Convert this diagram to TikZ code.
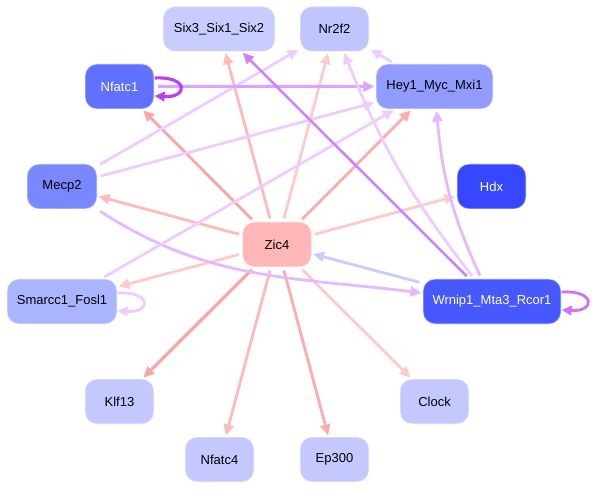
\documentclass[tikz,border=0pt]{standalone}
\usepackage{fontspec}
\setmainfont{Liberation Sans}
\usetikzlibrary{arrows.meta,backgrounds}
\definecolor{nLight}{HTML}{C4C8FF}
\definecolor{nSix}{HTML}{C8CCFF}
\definecolor{nNr}{HTML}{C0C5FF}
\definecolor{nNfatc}{HTML}{6070FF}
\definecolor{nHey}{HTML}{929CFF}
\definecolor{nMecp}{HTML}{7A88FF}
\definecolor{nHdx}{HTML}{3747FF}
\definecolor{nZic}{HTML}{FFB6B6}
\definecolor{nSmar}{HTML}{AAB4FF}
\definecolor{nWrn}{HTML}{4858FF}
\definecolor{eSalmon}{HTML}{F8A6A6}
\definecolor{eSalmonB}{HTML}{FFACAC}
\definecolor{ePink}{HTML}{FFBABA}
\definecolor{ePinkL}{HTML}{FFCACA}
\definecolor{eBlue}{HTML}{C8CCFF}
\definecolor{eLav}{HTML}{EECCFF}
\definecolor{eLavB}{HTML}{E6B8FF}
\definecolor{ePurp}{HTML}{D080FF}
\definecolor{ePurpD}{HTML}{C040F0}
\definecolor{ePurpM}{HTML}{E0A0FF}
\definecolor{eLoopW}{HTML}{D070FF}
\begin{document}
\begin{tikzpicture}[x=1pt,y=1pt,
  nb/.style={rectangle, rounded corners=12pt, minimum height=45pt, minimum width=69pt,
    inner sep=0pt, draw=white, draw opacity=0.45, line width=1.2pt,
    font=\fontsize{13}{15}\selectfont},
  edg/.style={line width=2.8pt, -{Triangle[length=11pt,width=10pt]}, shorten <=3pt, shorten >=1pt},
  loopedg/.style={line width=2.8pt, -{Triangle[length=10pt,width=9.5pt]}}]
\useasboundingbox (0,0) rectangle (592,-489);
\node[nb, fill=nSix, minimum width=112pt] (six) at (219,-29) {Six3\_Six1\_Six2};
\node[nb, fill=nNr] (nr) at (334.5,-29) {Nr2f2};
\node[nb, fill=nNfatc, text=white] (nfatc1) at (119.5,-86.5) {Nfatc1};
\node[nb, fill=nHey, minimum width=117pt] (hey) at (434.5,-86.5) {Hey1\_Myc\_Mxi1};
\node[nb, fill=nMecp, minimum width=70pt] (mecp) at (62,-186.5) {Mecp2};
\node[nb, fill=nHdx, text=white] (hdx) at (491.5,-186.5) {Hdx};
\node[nb, fill=nZic] (zic) at (277,-244.5) {Zic4};
\node[nb, fill=nSmar, minimum width=110pt] (smar) at (62,-301.5) {Smarcc1\_Fosl1};
\node[nb, fill=nWrn, text=white, minimum width=138pt] (wrn) at (492,-301.5) {Wrnip1\_Mta3\_Rcor1};
\node[nb, fill=nLight] (klf) at (119.5,-401.5) {Klf13};
\node[nb, fill=nLight] (clock) at (434.5,-401.5) {Clock};
\node[nb, fill=nLight] (nfatc4) at (219.5,-459.5) {Nfatc4};
\node[nb, fill=nLight] (ep) at (334.5,-459.5) {Ep300};
\begin{pgfonlayer}{background}
% Zic4 targets
\draw[edg, eSalmon] (zic) -- (nfatc1);
\draw[edg, ePink] (zic) -- (six);
\draw[edg, ePinkL] (zic) -- (nr);
\draw[edg, eSalmonB] (zic) -- (hey);
\draw[edg, ePinkL] (zic) -- (hdx);
\draw[edg, ePink] (zic) -- (mecp);
\draw[edg, ePinkL] (zic) -- (smar);
\draw[edg, eSalmon, line width=3.2pt] (zic) -- (klf);
\draw[edg, ePink] (zic) -- (nfatc4);
\draw[edg, eSalmonB] (zic) -- (ep);
\draw[edg, ePinkL] (zic) -- (clock);
% others
\draw[edg, eBlue] (wrn) -- (zic);
\draw[edg, eLavB] (mecp) to[out=-33,in=173] (wrn);
\draw[edg, eLav] (mecp) -- (nr);
\draw[edg, eLav] (mecp) -- (hey);
\draw[edg, eLav] (smar) -- (hey);
\draw[edg, ePurpM] (nfatc1) -- (hey);
\draw[edg, ePurp, line width=2.5pt] (wrn) -- (six);
\draw[edg, eLav] (wrn) to[bend left=8] (nr);
\draw[edg, eLavB] (wrn) to[bend left=10] (hey);
\draw[edg, eLav] (hey) -- (nr);
% self loops
\draw[loopedg, ePurpD, line width=3.2pt] ([yshift=8.5pt]nfatc1.east) .. controls +(34,2) and +(34,-2) .. ([yshift=-9.5pt]nfatc1.east);
\draw[loopedg, eLav] ([yshift=8.5pt]smar.east) .. controls +(34,2) and +(34,-2) .. ([yshift=-9.5pt]smar.east);
\draw[loopedg, eLoopW] ([yshift=9.5pt]wrn.east) .. controls +(34,2) and +(34,-2) .. ([yshift=-8.5pt]wrn.east);
\end{pgfonlayer}
\end{tikzpicture}
\end{document}
